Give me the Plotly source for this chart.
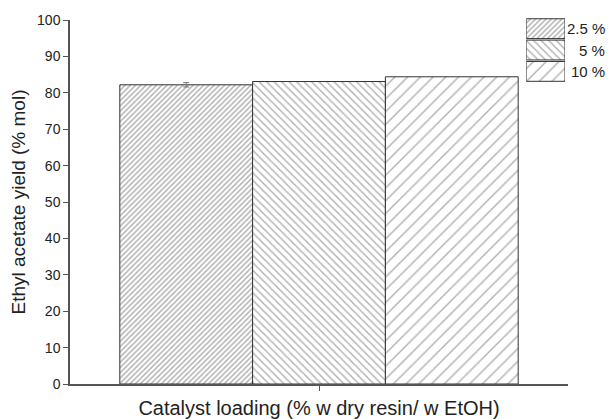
import plotly.graph_objects as go

categories = ["Catalyst"]
series_names = ["2.5 %", "5 %", "10 %"]
yield_values = [82.2, 83.1, 84.4]
yield_errors = [0.6, 0.0, 0.0]
pattern_shapes = ["/", "\\", "/"]
pattern_sizes = [3.7, 5.3, 9]
pattern_solidity = [0.4, 0.28, 0.16]
y_ticks = list(range(0, 101, 10))

fig = go.Figure()
for name, val, err, shp, sz, so in zip(series_names, yield_values, yield_errors,
                                       pattern_shapes, pattern_sizes, pattern_solidity):
    fig.add_trace(go.Bar(
        x=categories, y=[val], name=name, showlegend=False,
        marker=dict(color="white", line=dict(color="#333", width=1),
                    pattern=dict(shape=shp, size=sz, solidity=so, fgcolor="#666", bgcolor="white")),
        error_y=dict(type="data", array=[err], visible=err > 0, color="#777", thickness=1, width=3),
    ))

# legend keys drawn as a small horizontal bar chart in the top-right corner
legend_rows = list(range(len(series_names)))
fig.add_trace(go.Bar(
    x=[1] * len(series_names), y=legend_rows, orientation="h", width=0.93,
    xaxis="x2", yaxis="y2", showlegend=False, hoverinfo="skip",
    marker=dict(color="white", line=dict(color="#333", width=1),
                pattern=dict(shape=pattern_shapes, size=pattern_sizes,
                             solidity=pattern_solidity, fgcolor="#666", bgcolor="white")),
))
for row, name in zip(legend_rows, series_names):
    fig.add_annotation(x=1.078, y=row, xref="paper", yref="y2", text=name, showarrow=False,
                       xanchor="right", yanchor="middle", font=dict(size=15, color="#222"))

fig.update_layout(
    width=607, height=411,
    margin=dict(l=62, r=47, t=10, b=35),
    paper_bgcolor="white", plot_bgcolor="white",
    barmode="group", bargap=0.2, bargroupgap=0,
    font=dict(family="Liberation Sans, Arial, sans-serif", color="#222", size=14),
    showlegend=False,
    xaxis=dict(showline=True, linecolor="#555", linewidth=1.5,
               ticks="outside", ticklen=5, tickcolor="#555", showticklabels=False,
               showgrid=False, automargin=False,
               title=dict(text="Catalyst loading (% w dry resin/ w EtOH)", font=dict(size=20), standoff=13)),
    yaxis=dict(range=[0, 100], tickvals=y_ticks, domain=[0, 0.9945],
               showline=True, linecolor="#555", linewidth=1.5,
               ticks="outside", ticklen=5, tickcolor="#555", showgrid=False,
               zeroline=False, automargin=False, tickfont=dict(size=14),
               title=dict(text="Ethyl acetate yield (% mol)", font=dict(size=19), standoff=12)),
    xaxis2=dict(domain=[0.916, 0.994], range=[0, 1], anchor="y2", visible=False, fixedrange=True),
    yaxis2=dict(domain=[0.825, 1.0], range=[2.5, -0.5], anchor="x2", visible=False, fixedrange=True),
)

fig.write_html("out.html")
